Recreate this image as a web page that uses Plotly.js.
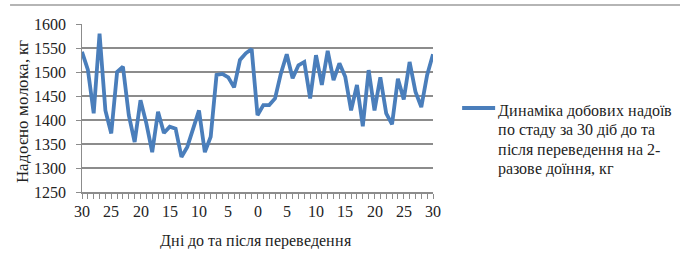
<!DOCTYPE html>
<html>
<head>
<meta charset="utf-8">
<script src="https://cdn.plot.ly/plotly-3.0.1.min.js"></script>
<style>
@font-face { font-family: 'RefSerif'; src: local('Liberation Serif'), local('LiberationSerif'), local('LiberationSerif-Regular'); font-weight: normal; font-style: normal; }
html,body{margin:0;padding:0;background:#fff;}
#chart{width:680px;height:268px;}
</style>
</head>
<body>
<div id="chart"></div>
<script>
// Days relative to the switch (negative = before, positive = after)
var days = [-30,-29,-28,-27,-26,-25,-24,-23,-22,-21,-20,-19,-18,-17,-16,-15,-14,-13,-12,-11,-10,-9,-8,-7,-6,-5,-4,-3,-2,-1,0,
            1,2,3,4,5,6,7,8,9,10,11,12,13,14,15,16,17,18,19,20,21,22,23,24,25,26,27,28,29,30];
// Daily milk yield of the herd, kg
var milk = [1542,1505,1414,1580,1420,1372,1500,1511,1410,1354,1441,1393,1333,1417,1373,1386,1382,1323,1344,1382,1420,1333,1365,1494,1496,1489,1468,1525,1539,1548,1410,
            1431,1431,1445,1497,1537,1487,1514,1521,1445,1535,1473,1544,1483,1518,1490,1420,1473,1387,1504,1420,1489,1414,1391,1486,1443,1521,1459,1427,1494,1537];
var xTickValues = [-30,-25,-20,-15,-10,-5,0,5,10,15,20,25,30];
var xTickLabels = ['30','25','20','15','10','5','0','5','10','15','20','25','30'];
var yTickValues = [1250,1300,1350,1400,1450,1500,1550,1600];
var yTickLabels = ['1250','1300','1350','1400','1450','1500','1550','1600'];
var legendLines = ['Динаміка добових надоїв', 'по стаду за 30 діб до та', 'після переведення на 2-', 'разове доїння, кг'];
var xTitle = 'Дні до та після переведення';
var yTitle = 'Надоєно молока, кг';

var font = 'RefSerif, Liberation Serif, DejaVu Serif, serif';
var txt = '#222';
var lineColor = '#4a7ebb';

function draw() {
  var trace = {
    x: days, y: milk, type: 'scatter', mode: 'lines', name: legendLines.join(' '),
    line: {color: lineColor, width: 3.8}
  };
  var ann = [];
  xTickValues.forEach(function(v, i) {
    ann.push({xref: 'x', yref: 'paper', x: v, y: -0.119, xanchor: 'center', yanchor: 'middle', showarrow: false,
              text: xTickLabels[i], font: {family: font, size: 16, color: txt}});
  });
  yTickValues.forEach(function(v, i) {
    ann.push({xref: 'paper', yref: 'y', x: -0.04, y: v, xanchor: 'right', yanchor: 'middle', showarrow: false,
              text: yTickLabels[i], font: {family: font, size: 16, color: txt}});
  });
  ann.push({xref: 'paper', yref: 'paper', x: 0.497, y: -0.286, xanchor: 'center', yanchor: 'middle', showarrow: false,
            text: xTitle, font: {family: font, size: 16, color: txt}});
  ann.push({xref: 'paper', yref: 'paper', x: -0.171, y: 0.482, xanchor: 'center', yanchor: 'middle', showarrow: false,
            textangle: -90, text: yTitle, font: {family: font, size: 16.5, color: txt}});
  var legendY = [110, 129.5, 149, 168.5];
  legendLines.forEach(function(t, i) {
    ann.push({xref: 'paper', yref: 'paper', x: 1.18, y: (192 - legendY[i]) / 168, xanchor: 'left', yanchor: 'middle', showarrow: false,
              align: 'left', text: t, font: {family: font, size: 16.3, color: txt}});
  });
  var layout = {
    width: 680, height: 268,
    margin: {l: 82, r: 247, t: 24, b: 76},
    paper_bgcolor: '#fff', plot_bgcolor: '#fff',
    font: {family: font, size: 16, color: txt},
    showlegend: false,
    annotations: ann,
    xaxis: {
      range: [-30, 30], tickmode: 'array', tickvals: xTickValues, showticklabels: false,
      showgrid: false, zeroline: false, showline: true, linecolor: '#8c8c8c', linewidth: 1.5,
      ticks: 'outside', ticklen: 5, tickcolor: '#8c8c8c', tickwidth: 1,
      minor: {dtick: 1, tick0: 0, ticks: 'outside', ticklen: 5, tickcolor: '#8c8c8c', showgrid: false}
    },
    yaxis: {
      range: [1250, 1600], tickmode: 'array', tickvals: yTickValues, showticklabels: false,
      showgrid: true, gridcolor: '#8c8c8c', gridwidth: 1.3,
      zeroline: false, showline: true, linecolor: '#8c8c8c', linewidth: 1.5,
      ticks: 'outside', ticklen: 5, tickcolor: '#8c8c8c'
    },
    shapes: [
      {type: 'line', xref: 'paper', yref: 'paper', x0: -0.205, x1: 1.71, y0: 1.113, y1: 1.113,
       line: {color: '#b5b5b5', width: 2}},
      {type: 'line', xref: 'paper', yref: 'paper', x0: 1.083, x1: 1.177, y0: (192 - 108) / 168, y1: (192 - 108) / 168,
       line: {color: lineColor, width: 3.8}}
    ]
  };
  Plotly.newPlot('chart', [trace], layout, {displayModeBar: false, staticPlot: true});
}

if (document.fonts && document.fonts.load) {
  document.fonts.load('16px RefSerif', 'Дні 1600').then(draw, draw);
} else {
  draw();
}
</script>
</body>
</html>
